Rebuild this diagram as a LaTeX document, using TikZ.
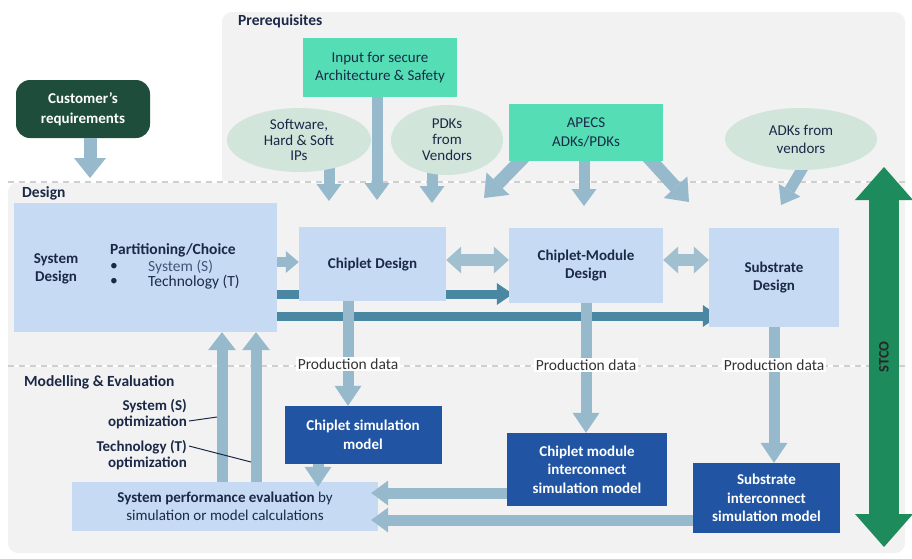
\documentclass[tikz,border=0pt]{standalone}
\usepackage{fontspec}
\setmainfont{Carlito}
\usetikzlibrary{arrows.meta,shapes.geometric,calc}
\definecolor{panelgrey}{HTML}{F2F2F2}
\definecolor{dashgrey}{HTML}{CFCFCF}
\definecolor{custgreen}{HTML}{1F4D3C}
\definecolor{tealbox}{HTML}{55DEB6}
\definecolor{sage}{HTML}{D2E5DB}
\definecolor{lightbox}{HTML}{C6DAF3}
\definecolor{darkbox}{HTML}{2155A3}
\definecolor{arrlight}{HTML}{96B9CB}
\definecolor{arrdark}{HTML}{4A87A2}
\definecolor{stcogreen}{HTML}{1D8B5C}
\definecolor{txt}{HTML}{1B2947}
\definecolor{subtxt}{HTML}{45557A}
\pgfdeclarelayer{panels}
\pgfdeclarelayer{behind}
\pgfsetlayers{panels,behind,main}
\tikzset{
  every node/.style={text=txt},
  lbl/.style={font=\fontsize{15.5}{17}\selectfont\bfseries, anchor=west, inner sep=0pt},
  custbox/.style={fill=custgreen, rounded corners=14pt, text=white, font=\fontsize{15}{20}\selectfont\bfseries, align=center, minimum width=134pt, minimum height=58pt, inner sep=0pt},
  tbox/.style={fill=tealbox, font=\fontsize{15}{18.5}\selectfont, align=center, inner sep=0pt},
  ell/.style={ellipse, fill=sage, font=\fontsize{15}{15.8}\selectfont, align=center, inner sep=0pt},
  lbox/.style={fill=lightbox, font=\fontsize{15}{18}\selectfont\bfseries, align=center, inner sep=0pt},
  dbox/.style={fill=darkbox, text=white, font=\fontsize{15}{18.5}\selectfont\bfseries, align=center, inner sep=0pt},
  plain/.style={font=\fontsize{15.5}{17}\selectfont, inner sep=0pt},
  pdlabel/.style={fill=white, font=\fontsize{15.5}{17}\selectfont, text=black!80, inner sep=1.5pt},
  arrS/.style={draw=arrlight, line width=11pt, -{Triangle[length=17pt,width=25pt,line width=0pt]}},
  arrV/.style={draw=arrlight, line width=11pt, -{Triangle[length=20pt,width=27pt,line width=0pt]}},
  arrShort/.style={draw=arrlight, line width=10pt, -{Triangle[length=13pt,width=22pt,line width=0pt]}},
  arrBoth/.style={draw=arrlight!90!white, line width=12pt, {Triangle[length=15pt,width=27pt,line width=0pt]}-{Triangle[length=15pt,width=27pt,line width=0pt]}},
  arrDk/.style={draw=arrdark, line width=9pt, -{Triangle[length=16pt,width=22pt,line width=0pt]}},
  arrUp/.style={draw=arrlight, line width=11pt, -{Triangle[length=18pt,width=28pt,line width=0pt]}},
  arrBig/.style={draw=arrlight, line width=13pt, -{Triangle[length=20pt,width=32pt,line width=0pt]}},
  stcoarr/.style={draw=stcogreen, line width=30pt, {Triangle[length=33pt,width=58pt,line width=0pt]}-{Triangle[length=33pt,width=58pt,line width=0pt]}},
  pointer/.style={draw=txt, line width=1pt},
}
\begin{document}
\begin{tikzpicture}[x=1pt,y=-1pt]
\useasboundingbox (0,0) rectangle (912,558);

% ---------- panels ----------
\begin{pgfonlayer}{panels}
\fill[panelgrey, rounded corners=10pt] (222,12) rectangle (905,196);
\fill[panelgrey, rounded corners=10pt] (8,182) rectangle (905,553);
\draw[white, line width=2.5pt] (8,182) -- (905,182);
\draw[dashgrey, line width=1.5pt, dash pattern=on 6pt off 5pt] (8,182) -- (905,182);
\draw[white, line width=2.5pt] (8,366) -- (905,366);
\draw[dashgrey, line width=1.5pt, dash pattern=on 6pt off 5pt] (8,366) -- (905,366);
\end{pgfonlayer}

\node[lbl] (prereq) at (238,21) {Prerequisites};
\node[lbl] (designlbl) at (22,193) {Design};
\node[lbl] (modlbl) at (24,382) {Modelling \& Evaluation};

% ---------- prerequisites ----------
\node[custbox] (cust) at (83,109) {Customer's\\requirements};
\node[tbox, minimum width=154pt, minimum height=59pt] (input) at (380,67.5) {Input for secure\\Architecture \& Safety};
\node[ell, minimum width=144pt, minimum height=64pt] (sw) at (299,140) {Software,\\Hard \& Soft\\IPs};
\node[ell, minimum width=112pt, minimum height=70pt] (pdk) at (447,140) {PDKs\\from\\Vendors};
\node[tbox, minimum width=154pt, minimum height=57pt] (apecs) at (586,132.5) {APECS\\ADKs/PDKs};
\node[ell, minimum width=152pt, minimum height=62pt, font=\fontsize{15}{18}\selectfont] (adk) at (801,139) {ADKs from\\vendors};

% ---------- design ----------
\node[lbox, minimum width=263pt, minimum height=129pt] (sysd) at (145.5,267.5) {};
\node[lbox, fill=none] (sysdt) at (56,269) {System\\Design};
\node[lbl] (part) at (110,250) {Partitioning/Choice};
\node[plain] (b1) at (114,267) {•};
\node[plain, anchor=west, text=subtxt] (b1t) at (148,267) {System (S)};
\node[plain] (b2) at (114,282) {•};
\node[plain, anchor=west] (b2t) at (148,282) {Technology (T)};
\node[lbox, minimum width=147pt, minimum height=74pt] (chip) at (372.5,264) {Chiplet Design};
\node[lbox, minimum width=154pt, minimum height=75pt] (cmod) at (586,265.5) {Chiplet-Module\\Design};
\node[lbox, minimum width=130pt, minimum height=99pt] (subd) at (774,277.5) {Substrate\\Design};

% ---------- modelling ----------
\node[dbox, minimum width=157pt, minimum height=58pt] (csim) at (363,435) {Chiplet  simulation\\model};
\node[dbox, minimum width=160pt, minimum height=73pt] (cmsim) at (587,469.5) {Chiplet module\\interconnect\\simulation model};
\node[dbox, minimum width=147pt, minimum height=70pt] (ssim) at (766.5,498) {Substrate\\interconnect\\simulation model};
\node[lbox, font=\fontsize{15}{18}\selectfont, minimum width=306pt, minimum height=49pt] (perf) at (225,506.5) {\textbf{System performance evaluation} by\\simulation or model calculations};

% ---------- arrows behind boxes ----------
\coordinate (custtip) at (90,178);
\coordinate (swtip) at (329,201);
\coordinate (inputtip) at (377,200);
\coordinate (pdktip) at (432,203);
\coordinate (apLtip) at (484,198);
\coordinate (apMtip) at (584,206);
\coordinate (apRtip) at (689,202);
\coordinate (adktip) at (781,205);
\begin{pgfonlayer}{behind}
\draw[arrS] (swtip |- sw.center) -- (swtip);
\draw[arrS] (pdktip |- pdk.center) -- (pdktip);
\draw[arrBig] ([xshift=16pt,yshift=5pt]apecs.south west) -- (apLtip);
\draw[arrBig] ([xshift=-16pt,yshift=5pt]apecs.south east) -- (apRtip);
\draw[arrS] ([xshift=5pt,yshift=8pt]adk.south) -- (adktip);
\draw[arrDk] (sysd.east |- 0,294) -- ($(cmod.west |- 0,294)+(4,0)$);
\draw[arrDk] (sysd.east |- 0,316) -- ($(subd.west |- 0,316)+(10,0)$);
\end{pgfonlayer}

\draw[arrBig] (cust.south -| custtip) -- (custtip);
\draw[arrS] (input.south -| inputtip) -- (inputtip);
\draw[arrS] (apecs.south -| apMtip) -- (apMtip);

% design connectors
\draw[arrShort] (sysd.east |- 0,262) -- (chip.west |- 0,262);
\draw[arrBoth] (chip.east |- 0,260) -- (cmod.west |- 0,260);
\draw[arrBoth] (cmod.east |- 0,260) -- (subd.west |- 0,260);

% production data
\draw[arrV] (chip.south -| 348,0) -- (csim.north -| 348,0);
\draw[arrV] (cmod.south) -- (cmod.south |- cmsim.north);
\draw[arrV] (subd.south) -- (subd.south |- ssim.north);
\node[pdlabel] (pd1) at (348,364) {Production data};
\node[pdlabel] (pd2) at (586,365) {Production data};
\node[pdlabel] (pd3) at (774,365) {Production data};

% modelling connectors
\draw[arrV] (csim.south -| 318,0) -- ($(perf.north -| 318,0)+(0,5)$);
\draw[arrS] (cmsim.west |- 0,493) -- ($(perf.east |- 0,493)+(-7,0)$);
\draw[arrS] (ssim.west |- 0,520) -- ($(perf.east |- 0,520)+(-7,0)$);
\draw[arrUp] (perf.north -| 222,0) -- (sysd.south -| 222,0);
\draw[arrUp] (perf.north -| 256,0) -- (sysd.south -| 256,0);

% optimisation labels
\node[lbl, anchor=east, align=right, font=\fontsize{15}{16.5}\selectfont\bfseries] (optS) at (187,414) {System (S)\\optimization};
\node[lbl, anchor=east, align=right, font=\fontsize{15}{16.5}\selectfont\bfseries] (optT) at (187,455) {Technology (T)\\optimization};
\coordinate (optSend) at (217,417);
\coordinate (optTend) at (251,462);
\draw[pointer] ($(optS.east)+(2,7)$) -- (optSend);
\draw[pointer] ($(optT.east)+(2,-9)$) -- (optTend);

% STCO
\coordinate (stcotop) at (884,167);
\coordinate (stcobot) at (884,547);
\draw[stcoarr] (stcobot) -- (stcotop);
\node[rotate=90, font=\fontsize{14.5}{16}\selectfont\bfseries, text=black!85] (stcolbl) at (884,357) {STCO};
\end{tikzpicture}
\end{document}
